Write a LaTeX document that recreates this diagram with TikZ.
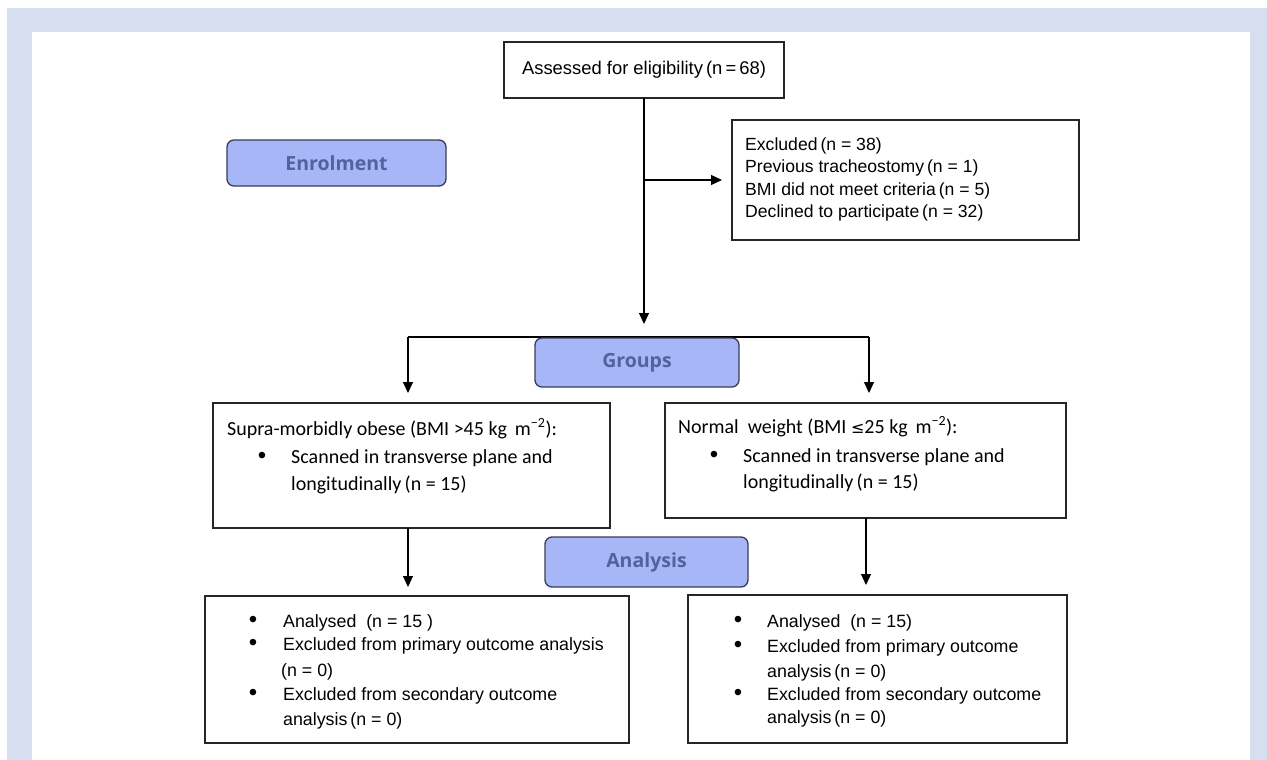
\documentclass[tikz,border=0pt]{standalone}
\usepackage{fontspec}
\setmainfont{Liberation Sans}
\newfontfamily\calfont{Carlito}
\newfontfamily\labfont{Open Sans}
\newfontfamily\djvfont{DejaVu Sans}
\usetikzlibrary{arrows.meta}
\definecolor{bgblue}{RGB}{214,222,240}
\definecolor{labfill}{RGB}{166,182,246}
\definecolor{labtext}{RGB}{80,98,160}
\definecolor{labdraw}{RGB}{58,62,84}
\tikzset{
  box/.style={draw=black!85, line width=1.1pt, fill=white, inner sep=0pt, outer sep=0pt},
  labbox/.style={draw=labdraw, line width=1.3pt, fill=labfill, rounded corners=7pt,
    text=labtext, font=\labfont\bfseries\fontsize{19.5}{22}\selectfont, inner sep=0pt, outer sep=0pt},
  arr/.style={-{Triangle[length=11pt,width=10pt]}, line width=1.1pt, draw=black},
  ln/.style={line width=1.1pt, draw=black},
  ar/.style={anchor=base west, inner sep=0pt, font=\fontsize{17.8}{20}\selectfont},
  ex/.style={anchor=base west, inner sep=0pt, font=\fontsize{17.6}{20}\selectfont},
  cb/.style={anchor=base west, inner sep=0pt, font=\calfont\fontsize{20}{22}\selectfont},
  bul/.style={anchor=base, inner sep=0pt, font=\fontsize{24}{20}\selectfont},
}
\begin{document}
\begin{tikzpicture}[x=1pt,y=-1pt]
\useasboundingbox (0,0) rectangle (1267,760);
\fill[bgblue] (7,8) rectangle (1267,760);
\fill[white] (32,32) rectangle (1250,760);

% main boxes
\node[box, minimum width=280pt, minimum height=56pt, font=\fontsize{18.4}{20}\selectfont] (assess) at (644,70) {Assessed for eligibility\,(n\,=\,68)};
\node[box, minimum width=347pt, minimum height=120pt] (excl) at (905.5,180) {};
\node[box, minimum width=397pt, minimum height=125pt] (gbL) at (411.5,465.5) {};
\node[box, minimum width=401pt, minimum height=115pt] (gbR) at (865.5,460.5) {};
\node[box, minimum width=424pt, minimum height=147pt] (abL) at (417,669.5) {};
\node[box, minimum width=379pt, minimum height=148pt] (abR) at (877.5,669) {};

% label boxes
\node[labbox, minimum width=219pt, minimum height=46pt] (enrol) at (336.5,163) {Enrolment};

% connectors
\coordinate (split) at (644,324);
\coordinate (branch) at (assess.south |- excl.west);
\coordinate (gL) at (408,337);
\coordinate (gR) at (869,337);
\coordinate (aR) at (866,0);
\draw[arr] (assess.south) -- (split);
\draw[arr] (branch) -- ([xshift=-10pt]excl.west);
\draw[ln] (gL) -- (gR);
\draw[arr] (gL) -- ([yshift=10pt]gL |- gbL.north);
\draw[arr] (gR) -- ([yshift=10pt]gR |- gbR.north);
\draw[arr] (gL |- gbL.south) -- ([yshift=9pt]gL |- abL.north);
\draw[arr] (aR |- gbR.south) -- ([yshift=10pt]aR |- abR.north);

\node[labbox, minimum width=204pt, minimum height=49pt] (groups) at (637,362.5) {Groups};
\node[labbox, minimum width=203pt, minimum height=50pt] (analysis) at (646.5,562) {Analysis};

% excluded text
\node[ex] (e1) at (745,150) {Excluded\,(n = 38)};
\node[ex] (e2) at (745,172) {Previous tracheostomy\,(n = 1)};
\node[ex] (e3) at (745,195) {BMI did not meet criteria\,(n = 5)};
\node[ex] (e4) at (745,217) {Declined to participate\,(n = 32)};

% group left
\node[cb] (gl1) at (227,435) {Supra-morbidly obese (BMI >45 kg\, m\textsuperscript{−2}):};
\node[bul] (gl2b) at (262,463) {•};
\node[cb] (gl2) at (291,463) {Scanned in transverse plane and};
\node[cb] (gl3) at (291,490) {longitudinally\,(n = 15)};

% group right
\node[cb] (gr1) at (678,433) {Normal\ \ weight (BMI {\djvfont\fontsize{16}{20}\selectfont ≤}25 kg\, m\textsuperscript{−2}):};
\node[bul] (gr2b) at (714,462) {•};
\node[cb] (gr2) at (743,462) {Scanned in transverse plane and};
\node[cb] (gr3) at (743,488) {longitudinally\,(n = 15)};

% analysis left
\node[bul] (al1b) at (253,627) {•};
\node[ar] (al1) at (283,627) {Analysed\ \ (n = 15 )};
\node[bul] (al2b) at (253,650) {•};
\node[ar] (al2) at (283,650) {Excluded from primary outcome analysis};
\node[ar] (al3) at (281,676) {(n = 0)};
\node[bul] (al4b) at (253,700) {•};
\node[ar] (al4) at (283,700) {Excluded from secondary outcome};
\node[ar] (al5) at (283,725) {analysis\,(n = 0)};

% analysis right
\node[bul] (ar1b) at (738,627) {•};
\node[ar] (ar1) at (767,627) {Analysed\ \ (n = 15)};
\node[bul] (ar2b) at (738,652) {•};
\node[ar] (ar2) at (767,652) {Excluded from primary outcome};
\node[ar] (ar3) at (767,677) {analysis\,(n = 0)};
\node[bul] (ar4b) at (738,700) {•};
\node[ar] (ar4) at (767,700) {Excluded from secondary outcome};
\node[ar] (ar5) at (767,723) {analysis\,(n = 0)};
\end{tikzpicture}
\end{document}
